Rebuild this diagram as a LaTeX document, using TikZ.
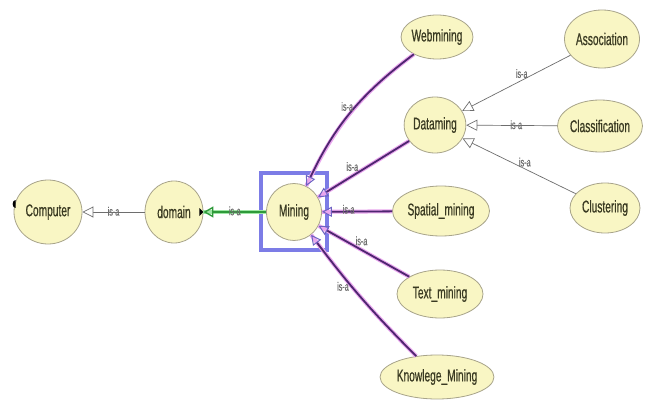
\documentclass[tikz,border=0pt]{standalone}
\usepackage{fontspec}
\newfontfamily\narrowfont[FakeStretch=0.6,FakeBold=0.6]{Liberation Sans}
\usetikzlibrary{arrows.meta,shapes.geometric}
\definecolor{nodefill}{HTML}{F9F6C4}
\definecolor{nodeline}{HTML}{A8A48A}
\definecolor{nodetext}{HTML}{3A3A22}
\definecolor{purpl}{HTML}{4E2670}
\definecolor{glowc}{HTML}{E9A6EE}
\definecolor{greenl}{HTML}{2E9A3A}
\definecolor{greenglow}{HTML}{9EE6A4}
\definecolor{graye}{HTML}{6E6E6E}
\definecolor{boxblue}{HTML}{7C7CE6}
\tikzset{
  cls/.style={ellipse,draw=nodeline,fill=nodefill,line width=0.8pt,inner sep=0pt,
    text=nodetext,font=\narrowfont\fontsize{17}{17}\selectfont},
  isalabel/.style={font=\narrowfont\fontsize{12}{12}\selectfont,text=graye,inner sep=1pt},
  grayedge/.style={draw=graye,line width=0.7pt,-{Triangle[open,length=11pt,width=11pt,fill=white]}},
  puredge/.style={draw=purpl,line width=1.8pt,
    preaction={draw=glowc,line width=4pt,arrows=-},
    -{Triangle[open,length=10pt,width=10pt,line width=1pt,color=boxblue!70!purpl]}},
  greenedge/.style={draw=greenl,line width=1.4pt,
    preaction={draw=greenglow,line width=4pt,arrows=-},
    -{Triangle[open,length=10pt,width=11pt,line width=1.4pt]}},
}
\begin{document}
\begin{tikzpicture}[x=1pt,y=-1pt]
\useasboundingbox (0,0) rectangle (651,412);
\fill[white] (0,0) rectangle (651,412);
% nodes
\node[cls,minimum width=68pt,minimum height=64pt] (computer) at (48,212) {Computer};
\node[cls,minimum width=58pt,minimum height=62pt] (domain) at (174,212) {domain};
\node[cls,minimum width=55pt,minimum height=57pt] (mining) at (294,212) {Mining};
\node[cls,minimum width=70pt,minimum height=44pt] (web) at (437,37) {Webmining};
\node[cls,minimum width=58pt,minimum height=56pt] (data) at (435,125) {Dataming};
\node[cls,minimum width=97pt,minimum height=50pt] (spatial) at (441,211) {Spatial\_mining};
\node[cls,minimum width=86pt,minimum height=48pt] (text) at (440,294) {Text\_mining};
\node[cls,minimum width=106pt,minimum height=44pt] (know) at (437,377) {Knowlege\_Mining};
\node[cls,minimum width=75pt,minimum height=58pt] (assoc) at (602,39) {Association};
\node[cls,minimum width=85pt,minimum height=52pt] (classif) at (600,126) {Classification};
\node[cls,minimum width=70pt,minimum height=50pt] (clust) at (605,208) {Clustering};
% selection box
\draw[boxblue,line width=3.5pt] (261,173) rectangle (327,250);
% small markers
\fill[black] (computer.west) ++(2,-4) arc (90:270:3 and 4) -- cycle;
\fill[black] (domain.east) ++(-4,-4) -- ++(4,4) -- ++(-4,4) -- cycle;
% edges
\draw[grayedge] (domain) -- node[isalabel,above=-5pt]{is-a} (computer);
\draw[greenedge] (mining) -- node[isalabel,above=-5pt]{is-a} (domain);
\draw[puredge] (web) to[bend right=14] node[isalabel,pos=0.45,left=1pt]{is-a} (mining);
\draw[puredge] (data) -- node[isalabel,pos=0.55,above left=-1pt]{is-a} (mining);
\draw[puredge] (spatial) -- node[isalabel,pos=0.62,above=-4pt]{is-a} (mining);
\draw[puredge] (text) -- node[isalabel,pos=0.6,above right=-1pt]{is-a} (mining);
\draw[puredge] (know) to[bend left=4] node[isalabel,pos=0.6,left=1pt]{is-a} (mining);
\draw[grayedge] (assoc) -- node[isalabel,pos=0.45,above=1pt]{is-a} (data);
\draw[grayedge] (classif) -- node[isalabel,pos=0.45,above=-5pt]{is-a} (data);
\draw[grayedge] (clust) -- node[isalabel,pos=0.45,above=1pt]{is-a} (data);
\end{tikzpicture}
\end{document}
